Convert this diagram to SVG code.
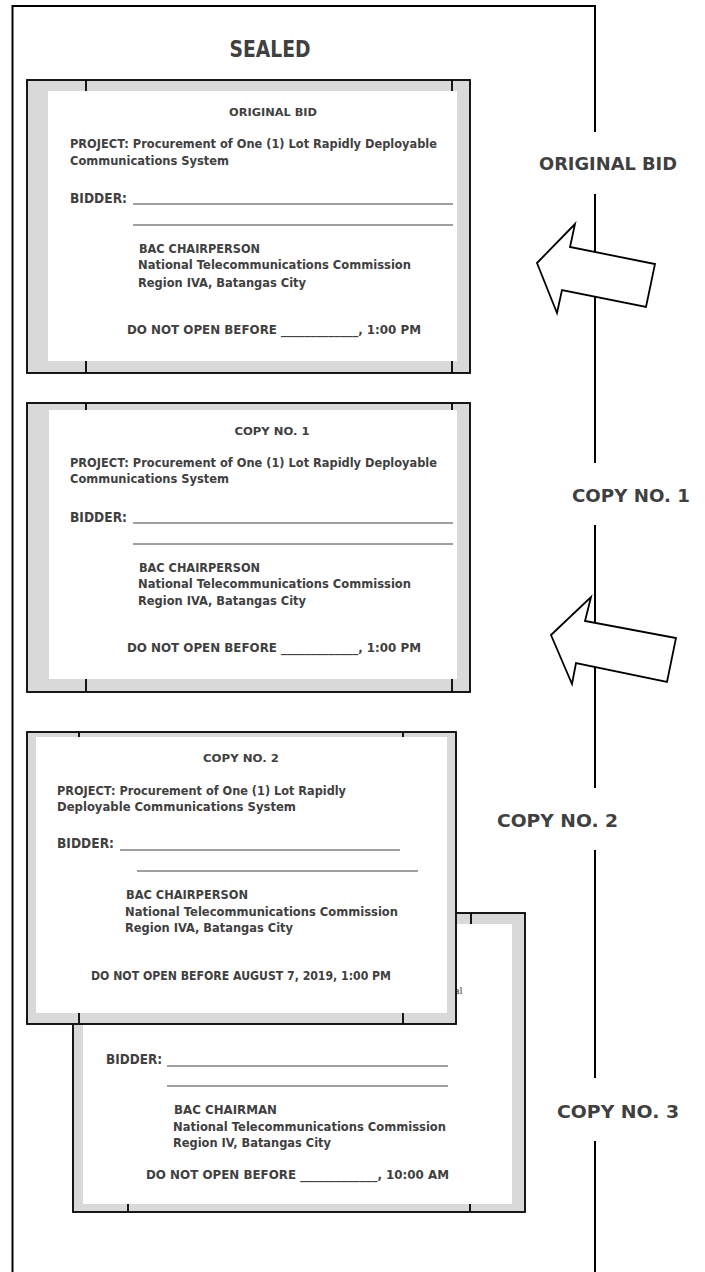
<svg xmlns="http://www.w3.org/2000/svg" width="705" height="1272" viewBox="0 0 705 1272">
<style>
.frame{stroke:#000;stroke-width:2;fill:none;stroke-linejoin:miter}
.env{fill:#d9d9d9;stroke:#000;stroke-width:1.8}
.inner{fill:#fff}
.tick{stroke:#000;stroke-width:1.8}
.t{font-family:"DejaVu Sans","Liberation Sans",sans-serif;font-weight:bold;fill:#404040}
.lbl{font-size:18px;text-anchor:middle}
.ttl{font-size:10.5px;text-anchor:middle}
.p{font-size:11.5px}
.b{font-size:14px}
.a{font-size:12px}
.blank{stroke:#404040;stroke-width:1}
.arrow{fill:#fff;stroke:#000;stroke-width:1.8;stroke-linejoin:miter}
.frag{font-family:"Liberation Serif",serif;font-size:11px;fill:#404040;text-anchor:end}
</style>
<g id="frame">
<path class="frame" d="M12.5 1272 V6 H595 V132"/>
<line class="frame" x1="595" y1="194" x2="595" y2="463"/>
<line class="frame" x1="595" y1="525" x2="595" y2="788"/>
<line class="frame" x1="595" y1="850" x2="595" y2="1078"/>
<line class="frame" x1="595" y1="1141" x2="595" y2="1272"/>
<text class="t" x="270" y="57" font-size="23" text-anchor="middle" textLength="81" lengthAdjust="spacingAndGlyphs">SEALED</text>
</g>
<g id="labels">
<text class="t lbl" x="608" y="170" textLength="138" lengthAdjust="spacingAndGlyphs">ORIGINAL BID</text>
<text class="t lbl" x="631" y="502" textLength="118" lengthAdjust="spacingAndGlyphs">COPY NO. 1</text>
<text class="t lbl" x="557.5" y="827" textLength="121" lengthAdjust="spacingAndGlyphs">COPY NO. 2</text>
<text class="t lbl" x="618" y="1118" textLength="122" lengthAdjust="spacingAndGlyphs">COPY NO. 3</text>
</g>
<g id="env-original">
<rect class="env" x="27" y="80" width="443" height="293"/>
<rect class="inner" x="48" y="91" width="409" height="270"/>
<line class="tick" x1="86" y1="80" x2="86" y2="91"/><line class="tick" x1="452" y1="80" x2="452" y2="91"/>
<line class="tick" x1="86" y1="361" x2="86" y2="373"/><line class="tick" x1="452" y1="361" x2="452" y2="373"/>
<text class="t ttl" x="273" y="116" textLength="88" lengthAdjust="spacingAndGlyphs">ORIGINAL BID</text>
<text class="t p" x="70" y="148" textLength="367" lengthAdjust="spacingAndGlyphs">PROJECT: Procurement of One (1) Lot Rapidly Deployable</text>
<text class="t p" x="70" y="165" textLength="159" lengthAdjust="spacingAndGlyphs">Communications System</text>
<text class="t b" x="70" y="203" textLength="57" lengthAdjust="spacingAndGlyphs">BIDDER:</text>
<line class="blank" x1="133" y1="204" x2="453" y2="204"/>
<line class="blank" x1="133" y1="225" x2="453" y2="225"/>
<text class="t a" x="139" y="253" textLength="121" lengthAdjust="spacingAndGlyphs">BAC CHAIRPERSON</text>
<text class="t a" x="138" y="269" textLength="273" lengthAdjust="spacingAndGlyphs">National Telecommunications Commission</text>
<text class="t a" x="138" y="287" textLength="168" lengthAdjust="spacingAndGlyphs">Region IVA, Batangas City</text>
<text class="t a" x="127" y="334" textLength="294" lengthAdjust="spacingAndGlyphs">DO NOT OPEN BEFORE _____________, 1:00 PM</text>
</g>
<g id="env-copy1">
<rect class="env" x="27" y="403" width="443" height="289"/>
<rect class="inner" x="49" y="410" width="408" height="269"/>
<line class="tick" x1="86" y1="403" x2="86" y2="410"/><line class="tick" x1="452" y1="403" x2="452" y2="410"/>
<line class="tick" x1="86" y1="679" x2="86" y2="692"/><line class="tick" x1="452" y1="679" x2="452" y2="692"/>
<text class="t ttl" x="272" y="435" textLength="75" lengthAdjust="spacingAndGlyphs">COPY NO. 1</text>
<text class="t p" x="70" y="467" textLength="367" lengthAdjust="spacingAndGlyphs">PROJECT: Procurement of One (1) Lot Rapidly Deployable</text>
<text class="t p" x="70" y="483" textLength="159" lengthAdjust="spacingAndGlyphs">Communications System</text>
<text class="t b" x="70" y="522" textLength="57" lengthAdjust="spacingAndGlyphs">BIDDER:</text>
<line class="blank" x1="133" y1="523" x2="453" y2="523"/>
<line class="blank" x1="133" y1="544" x2="453" y2="544"/>
<text class="t a" x="139" y="572" textLength="121" lengthAdjust="spacingAndGlyphs">BAC CHAIRPERSON</text>
<text class="t a" x="138" y="588" textLength="273" lengthAdjust="spacingAndGlyphs">National Telecommunications Commission</text>
<text class="t a" x="138" y="605" textLength="168" lengthAdjust="spacingAndGlyphs">Region IVA, Batangas City</text>
<text class="t a" x="127" y="652" textLength="294" lengthAdjust="spacingAndGlyphs">DO NOT OPEN BEFORE _____________, 1:00 PM</text>
</g>
<g id="env-copy3">
<rect class="env" x="73" y="913" width="452" height="299"/>
<rect class="inner" x="83" y="924" width="429" height="280"/>
<line class="tick" x1="128" y1="913" x2="128" y2="924"/><line class="tick" x1="471" y1="913" x2="471" y2="924"/>
<line class="tick" x1="128" y1="1204" x2="128" y2="1212"/><line class="tick" x1="470" y1="1204" x2="470" y2="1212"/>
<text class="frag" x="462.5" y="994">al</text>
<text class="t b" x="106" y="1064" textLength="56" lengthAdjust="spacingAndGlyphs">BIDDER:</text>
<line class="blank" x1="167" y1="1066" x2="448" y2="1066"/>
<line class="blank" x1="167" y1="1086" x2="448" y2="1086"/>
<text class="t a" x="174" y="1114" textLength="103" lengthAdjust="spacingAndGlyphs">BAC CHAIRMAN</text>
<text class="t a" x="173" y="1131" textLength="273" lengthAdjust="spacingAndGlyphs">National Telecommunications Commission</text>
<text class="t a" x="173" y="1147" textLength="158" lengthAdjust="spacingAndGlyphs">Region IV, Batangas City</text>
<text class="t a" x="146" y="1179" textLength="303" lengthAdjust="spacingAndGlyphs">DO NOT OPEN BEFORE _____________, 10:00 AM</text>
</g>
<g id="env-copy2">
<rect class="env" x="27" y="732" width="429" height="292"/>
<rect class="inner" x="36" y="737" width="411" height="276"/>
<line class="tick" x1="79" y1="732" x2="79" y2="737"/><line class="tick" x1="403" y1="732" x2="403" y2="737"/>
<line class="tick" x1="79" y1="1013" x2="79" y2="1024"/><line class="tick" x1="403" y1="1013" x2="403" y2="1024"/>
<text class="t ttl" x="241" y="762" textLength="76" lengthAdjust="spacingAndGlyphs">COPY NO. 2</text>
<text class="t p" x="57" y="795" textLength="289" lengthAdjust="spacingAndGlyphs">PROJECT: Procurement of One (1) Lot Rapidly</text>
<text class="t p" x="57" y="811" textLength="239" lengthAdjust="spacingAndGlyphs">Deployable Communications System</text>
<text class="t b" x="57" y="848" textLength="57" lengthAdjust="spacingAndGlyphs">BIDDER:</text>
<line class="blank" x1="120" y1="850" x2="400" y2="850"/>
<line class="blank" x1="137" y1="871" x2="418" y2="871"/>
<text class="t a" x="126" y="899" textLength="122" lengthAdjust="spacingAndGlyphs">BAC CHAIRPERSON</text>
<text class="t a" x="125" y="916" textLength="273" lengthAdjust="spacingAndGlyphs">National Telecommunications Commission</text>
<text class="t a" x="125" y="932" textLength="168" lengthAdjust="spacingAndGlyphs">Region IVA, Batangas City</text>
<text class="t a" x="91" y="980" textLength="300" lengthAdjust="spacingAndGlyphs">DO NOT OPEN BEFORE AUGUST 7, 2019, 1:00 PM</text>
</g>
<g id="connectors">
<polygon class="arrow" points="537,263 575,224 570,247 655,264 646,307 562,290 557,313"/>
<polygon class="arrow" points="551,635 591,597 585,621 676,638 667,682 576,663 572,684"/>
</g>
</svg>
